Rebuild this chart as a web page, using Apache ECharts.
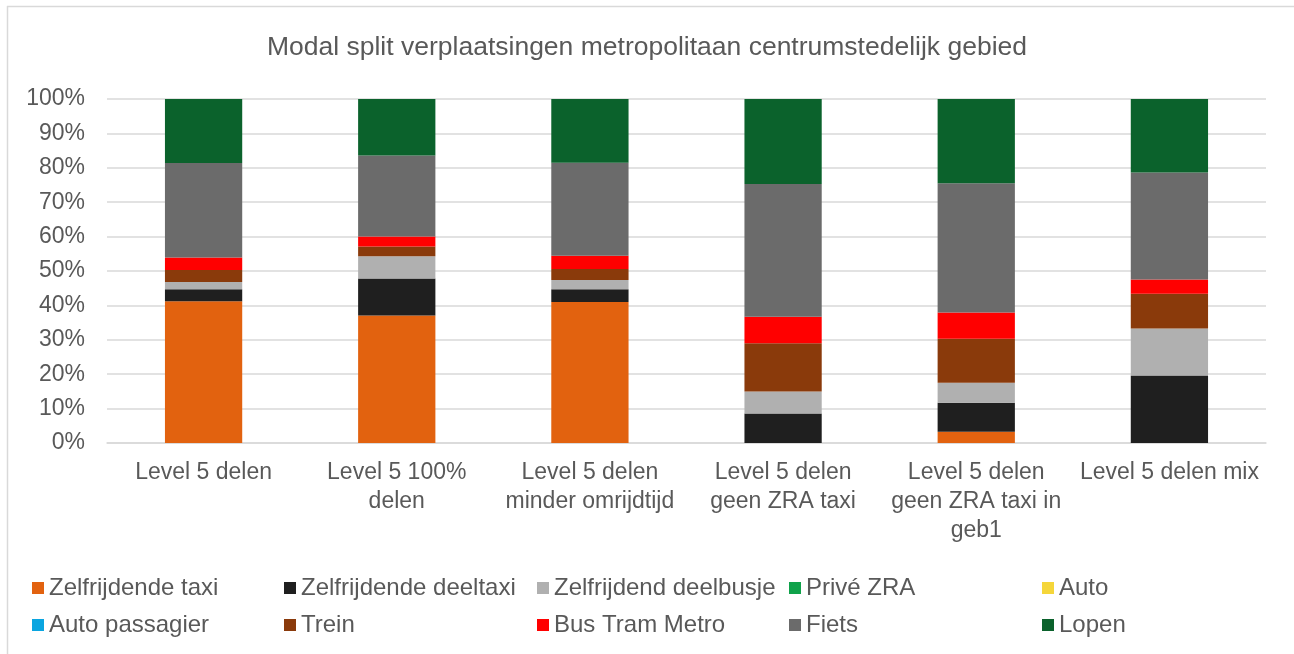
<!DOCTYPE html>
<html>
<head>
<meta charset="utf-8">
<script src="https://cdn.jsdelivr.net/npm/echarts@6/dist/echarts.min.js"></script>
<style>
html,body{margin:0;padding:0;background:#fff;}
#chart{width:1294px;height:654px;}
</style>
</head>
<body>
<div id="chart"></div>
<script>
const title = 'Modal split verplaatsingen metropolitaan centrumstedelijk gebied';
const categories = [
  'Level 5 delen',
  'Level 5 100%\ndelen',
  'Level 5 delen\nminder omrijdtijd',
  'Level 5 delen\ngeen ZRA taxi',
  'Level 5 delen\ngeen ZRA taxi in\ngeb1',
  'Level 5 delen mix'
];
const seriesNames = ['Zelfrijdende taxi','Zelfrijdende deeltaxi','Zelfrijdend deelbusje','Privé ZRA','Auto','Auto passagier','Trein','Bus Tram Metro','Fiets','Lopen'];
const zelfrijdendeTaxi    = [41.2, 37.1, 41.0, 0,    3.3,  0];
const zelfrijdendeDeeltaxi= [3.5,  10.7, 3.7,  8.6,  8.4,  19.6];
const zelfrijdendDeelbusje= [2.1,  6.5,  2.7,  6.4,  5.8,  13.7];
const priveZRA            = [0, 0, 0, 0, 0, 0];
const auto                = [0, 0, 0, 0, 0, 0];
const autoPassagier       = [0, 0, 0, 0, 0, 0];
const trein               = [3.5,  2.8,  3.2,  14.0, 12.8, 10.1];
const busTramMetro        = [3.6,  2.9,  3.8,  7.7,  7.6,  4.1];
const fiets               = [27.5, 23.6, 27.1, 38.6, 37.6, 31.1];
const lopen               = [18.6, 16.4, 18.5, 24.7, 24.5, 21.4];
const seriesData = [zelfrijdendeTaxi, zelfrijdendeDeeltaxi, zelfrijdendDeelbusje, priveZRA, auto, autoPassagier, trein, busTramMetro, fiets, lopen];
const colors = ['#E2620F','#1F1F1F','#B0B0B0','#0FA24A','#F5D63A','#0AA5E0','#8A3A0B','#FF0000','#6B6B6B','#0B622C'];
const yTicks = [0,10,20,30,40,50,60,70,80,90,100];

const FONT = "'Liberation Sans', Arial, sans-serif";
const TXT = '#595959';

const legendCols = [32, 284, 537, 789, 1042];
const legendRows = [576, 613];
const legends = seriesNames.map((n, i) => ({
  data: [n],
  left: legendCols[i % 5],
  top: legendRows[Math.floor(i / 5)],
  orient: 'horizontal',
  icon: 'rect',
  itemWidth: 12,
  itemHeight: 12,
  itemGap: 0,
  padding: 0,
  selectedMode: false,
  textStyle: {fontFamily: FONT, fontSize: 24, color: TXT, padding: [0,0,0,0]}
}));

const chart = echarts.init(document.getElementById('chart'), null, {renderer: 'canvas'});
chart.setOption({
  animation: false,
  color: colors,
  textStyle: {fontFamily: FONT},
  title: {
    text: title,
    left: 'center',
    top: 29,
    textStyle: {fontFamily: FONT, fontSize: 26.5, fontWeight: 'normal', color: TXT}
  },
  graphic: [
    {type: 'line', shape: {x1: 7, y1: 6.5, x2: 1294, y2: 6.5}, style: {stroke: '#D9D9D9', lineWidth: 1.5}, silent: true, z: -10},
    {type: 'line', shape: {x1: 7.5, y1: 6, x2: 7.5, y2: 654}, style: {stroke: '#D9D9D9', lineWidth: 1.5}, silent: true, z: -10}
  ],
  legend: legends,
  grid: {left: 107, right: 28, top: 99, bottom: 211, containLabel: false},
  xAxis: {
    type: 'category',
    data: categories,
    axisTick: {show: false},
    axisLine: {show: true, lineStyle: {color: '#D9D9D9', width: 1.5}},
    axisLabel: {interval: 0, margin: 15, fontFamily: FONT, fontSize: 23, color: TXT, lineHeight: 29, align: 'center'}
  },
  yAxis: {
    type: 'value',
    min: 0, max: 100, interval: 10,
    axisLine: {show: false},
    axisTick: {show: false},
    splitLine: {lineStyle: {color: '#D9D9D9', width: 1.5}},
    axisLabel: {
      margin: 22, fontFamily: FONT, fontSize: 23, color: TXT,
      formatter: v => (yTicks.indexOf(v) >= 0 ? v + '%' : '')
    }
  },
  series: seriesNames.map((n, i) => ({
    name: n,
    type: 'bar',
    stack: 'total',
    barWidth: '40%',
    data: seriesData[i],
    itemStyle: {color: colors[i]}
  }))
});
</script>
</body>
</html>
